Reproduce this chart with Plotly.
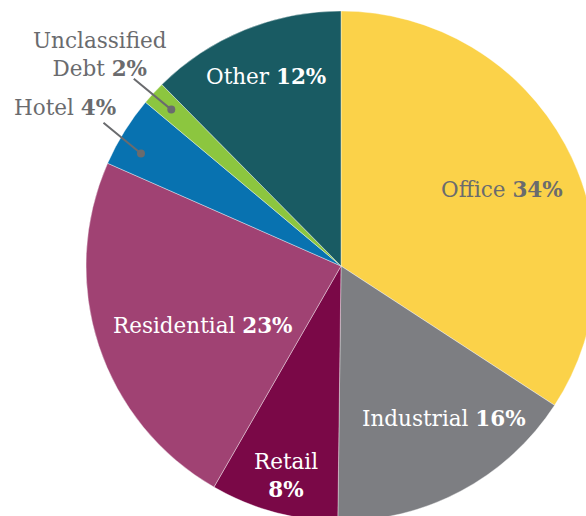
import math
import plotly.graph_objects as go

# ---- data ----
categories = ["Office", "Industrial", "Retail", "Residential", "Hotel", "Unclassified Debt", "Other"]
shares = [34.2, 16.0, 8.1, 23.3, 4.5, 1.5, 12.4]          # slice sizes
pct_labels = ["34%", "16%", "8%", "23%", "4%", "2%", "12%"]  # printed percentages

# ---- style ----
colors = ["#FBD249", "#7D7E82", "#7A0847", "#A04273", "#0872B0", "#8CC63F", "#195B63"]
GRAY = "#6a6b6e"
text_colors = [GRAY, "white", "white", "white", GRAY, GRAY, "white"]
# inside label placement: (fraction of radius, angular tweak in degrees)
label_pos = [(0.70, 3.0), (0.72, -6.0), (0.85, -0.5), (0.59, -5.0), None, None, (0.80, 0.8)]
FONT = "DejaVu Serif"
FS = 21.5

# figure slightly larger than the window; the window crops it like the reference
W, H = 600, 530
CXv, CYv, Rv = 341, 266, 255        # pie centre / radius in window pixels
dom_x = [(CXv - Rv) / W, (CXv + Rv) / W]
dom_y = [1 - (CYv + Rv) / H, 1 - (CYv - Rv) / H]

fig = go.Figure(go.Pie(
    labels=categories,
    values=shares,
    sort=False,
    direction="clockwise",
    rotation=0,
    marker=dict(colors=colors, line=dict(color="rgba(255,255,255,0.55)", width=0.7)),
    textinfo="none",
    hoverinfo="label+percent",
    domain=dict(x=dom_x, y=dom_y),
    showlegend=False,
))

dw = (dom_x[1] - dom_x[0]) * W
dh = (dom_y[1] - dom_y[0]) * H
R = min(dw, dh) / 2
CX = (dom_x[0] + dom_x[1]) / 2 * W
CY = (1 - (dom_y[0] + dom_y[1]) / 2) * H

total = sum(shares)
mids = []
acc = 0
for s in shares:
    mids.append((acc + s / 2) / total * 2 * math.pi)
    acc += s

def px(frac, ang):
    x = CX + frac * R * math.sin(ang)
    y = CY - frac * R * math.cos(ang)
    return x / W, 1 - y / H

annotations = []
for i, cat in enumerate(categories):
    if label_pos[i] is None:
        continue
    frac, tweak = label_pos[i]
    x, y = px(frac, mids[i] + math.radians(tweak))
    if cat == "Retail":
        txt = f"{cat}<br><b>{pct_labels[i]}</b>"
    else:
        txt = f"{cat} <b>{pct_labels[i]}</b>"
    annotations.append(dict(x=x, y=y, xref="paper", yref="paper", text=txt, showarrow=False,
                            font=dict(family=FONT, size=FS, color=text_colors[i]),
                            xanchor="center", yanchor="middle", align="center"))

# outside labels: dot on slice, leader line, text block
# (dot radius fraction, dot angle tweak deg, leader end dx, dy, text dx, dy) in pixels
outside = {"Hotel": (0.90, -2.5, -39, -32, -76, -46),
           "Unclassified Debt": (0.905, 0.0, -39, -32, -71, -55)}
for i, cat in enumerate(categories):
    if cat not in outside:
        continue
    frac, tw, lx, ly, tx, ty = outside[cat]
    x, y = px(frac, mids[i] + math.radians(tw))
    annotations.append(dict(x=x, y=y, xref="paper", yref="paper", text="", showarrow=True,
                            arrowhead=6, arrowsize=1.0, arrowwidth=2, arrowcolor=GRAY,
                            ax=lx, ay=ly, standoff=0, startstandoff=0))
    if cat == "Unclassified Debt":
        txt = f"Unclassified<br>Debt <b>{pct_labels[i]}</b>"
    else:
        txt = f"{cat} <b>{pct_labels[i]}</b>"
    annotations.append(dict(x=x, y=y, xref="paper", yref="paper", text=txt, showarrow=False,
                            xshift=tx, yshift=-ty,
                            font=dict(family=FONT, size=FS, color=GRAY), align="center",
                            xanchor="center", yanchor="middle"))

fig.update_layout(
    width=W, height=H,
    margin=dict(l=0, r=0, t=0, b=0),
    paper_bgcolor="white",
    annotations=annotations,
)

fig.write_html(
    "out.html",
    config={"displayModeBar": False},
    post_script="document.documentElement.style.overflow='hidden';"
                "document.body.style.margin='0';document.body.style.overflow='hidden';",
)
